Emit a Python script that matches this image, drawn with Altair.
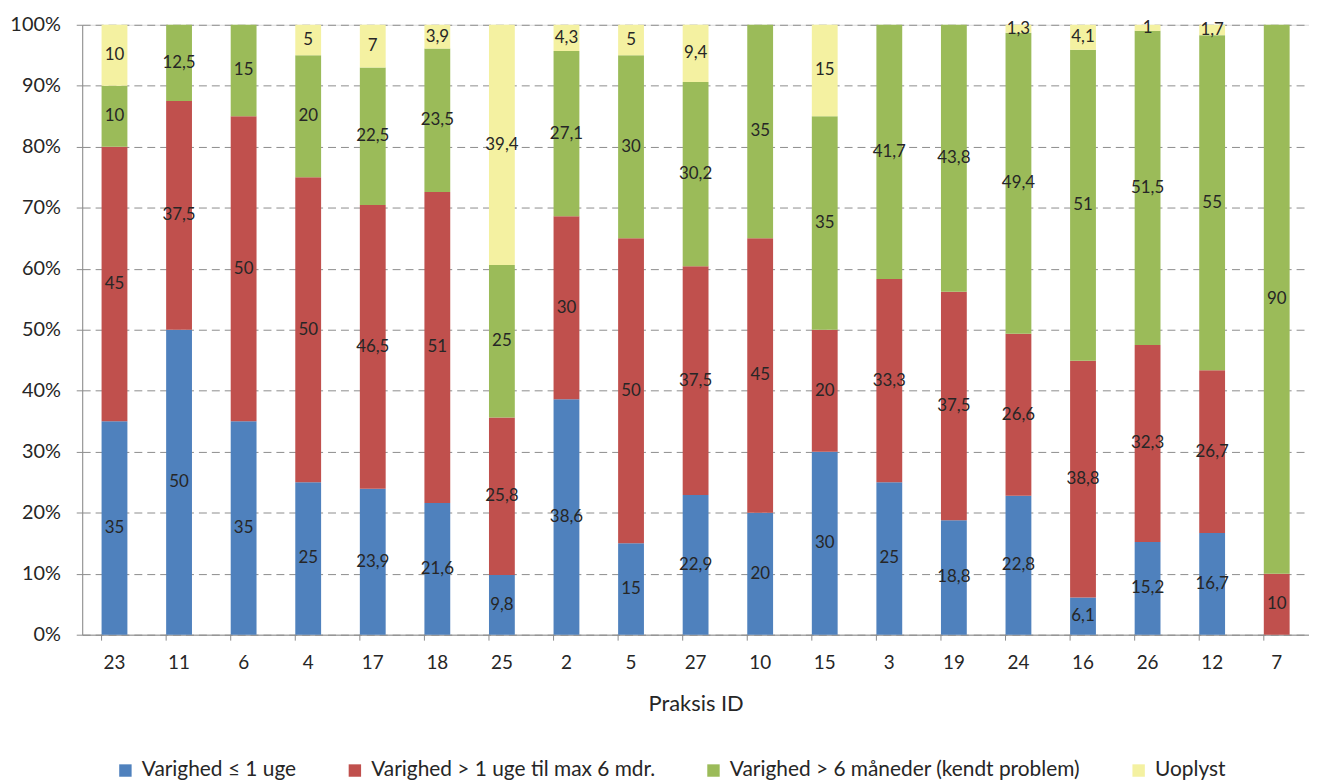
import altair as alt
import pandas as pd

ids = ["23", "11", "6", "4", "17", "18", "25", "2", "5", "27",
       "10", "15", "3", "19", "24", "16", "26", "12", "7"]
series = ["Varighed ≤ 1 uge",
          "Varighed > 1 uge til max 6 mdr.",
          "Varighed > 6 måneder (kendt problem)",
          "Uoplyst"]
colors = ["#4F81BD", "#C0504D", "#9BBB59", "#F4F1A1"]

short_ = [35, 50, 35, 25, 23.9, 21.6, 9.8, 38.6, 15, 22.9,
          20, 30, 25, 18.8, 22.8, 6.1, 15.2, 16.7, 0]
medium = [45, 37.5, 50, 50, 46.5, 51, 25.8, 30, 50, 37.5,
          45, 20, 33.3, 37.5, 26.6, 38.8, 32.3, 26.7, 10]
long_ = [10, 12.5, 15, 20, 22.5, 23.5, 25, 27.1, 30, 30.2,
         35, 35, 41.7, 43.8, 49.4, 51, 51.5, 55, 90]
unknown = [10, 0, 0, 5, 7, 3.9, 39.4, 4.3, 5, 9.4,
           0, 15, 0, 0, 1.3, 4.1, 1, 1.7, 0]

rows = []
for k, vals in enumerate([short_, medium, long_, unknown]):
    for i, v in zip(ids, vals):
        rows.append({"id": i, "series": series[k], "order": k, "value": v})
df = pd.DataFrame(rows)
ticks_df = pd.DataFrame({"id": ids})

FONT = "Lato"
TXT = "#262626"
GRAY = "#8C8C8C"

x_axis = alt.Axis(
    title="Praksis ID", titleFont=FONT, titleFontSize=22, titleFontWeight="normal",
    titleColor=TXT, titleBaseline="alphabetic", titleY=76,
    labelAngle=0, labelFont=FONT, labelFontSize=19, labelColor=TXT,
    labelBaseline="alphabetic", labelPadding=34,
    ticks=False, tickSize=0, domainColor=GRAY, domainWidth=1, grid=False,
)
y_axis = alt.Axis(
    title=None, values=[i / 10 for i in range(11)], format=".0%",
    labelFont=FONT, labelFontSize=20, labelColor=TXT, labelPadding=16,
    tickSize=6, tickColor=GRAY, domainColor=GRAY, domainWidth=1,
    grid=True, gridColor=GRAY, gridDash=[8, 5], gridWidth=1,
)

base = alt.Chart(df).transform_stack(
    stack="value", groupby=["id"], as_=["y0", "y1"],
    sort=[alt.SortField("order", "ascending")], offset="normalize",
)

xenc = alt.X("id:N", sort=ids, axis=x_axis,
             scale=alt.Scale(paddingInner=0.6, paddingOuter=0.3))

bars = base.mark_bar().encode(
    x=xenc,
    y=alt.Y("y0:Q", scale=alt.Scale(domain=[0, 1]), axis=y_axis),
    y2="y1:Q",
    color=alt.Color(
        "series:N", scale=alt.Scale(domain=series, range=colors),
        legend=alt.Legend(
            title=None, orient="none", legendX=33, legendY=740,
            direction="horizontal", columns=4, columnPadding=48,
            symbolType="square", symbolSize=156, symbolStrokeWidth=0,
            labelFont=FONT, labelFontSize=21, labelColor=TXT,
            labelOffset=6, labelLimit=600,
        ),
    ),
    order=alt.Order("order:Q"),
)

labels = base.transform_filter("datum.value > 0").transform_calculate(
    mid="(datum.y0 + datum.y1) / 2",
    lbl="replace(toString(datum.value), '.', ',')",
).mark_text(font=FONT, fontSize=17, color=TXT, align="center", baseline="middle").encode(
    x=alt.X("id:N", sort=ids),
    y=alt.Y("mid:Q"),
    text="lbl:N",
)

xticks = alt.Chart(ticks_df).mark_rule(color=GRAY, strokeWidth=1).encode(
    x=alt.X("id:N", sort=ids, bandPosition=0),
    y=alt.value(614),
    y2=alt.value(620),
)

chart = alt.layer(bars, labels, xticks).properties(
    width=1235, height=614,
    autosize=alt.AutoSizeParams(type="none"),
    padding={"left": 74.7, "top": 14.3, "right": 0, "bottom": 144.7},
).configure_view(stroke=None).configure(background="white")

chart.save("out.html", embed_options={"renderer": "svg", "actions": False})
